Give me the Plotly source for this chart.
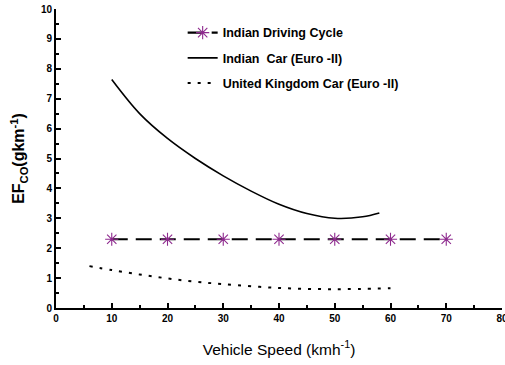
import plotly.graph_objects as go

# Indian Driving Cycle
idc_speed = [10, 20, 30, 40, 50, 60, 70]
idc_ef = [2.3, 2.3, 2.3, 2.3, 2.3, 2.3, 2.3]

# Indian Car (Euro-II)
in_speed = [10, 15, 20, 25, 30, 35, 40, 45, 50, 55, 58]
in_ef = [7.64, 6.50, 5.67, 5.00, 4.42, 3.91, 3.47, 3.16, 3.00, 3.05, 3.18]

# United Kingdom Car (Euro-II)
uk_speed = [6, 10, 15, 20, 25, 30, 40, 50, 60]
uk_ef = [1.40, 1.27, 1.12, 0.99, 0.88, 0.80, 0.67, 0.63, 0.66]

font_family = "Arial, Liberation Sans, sans-serif"

fig = go.Figure()
fig.add_trace(go.Scatter(
    x=idc_speed, y=idc_ef, mode="lines+markers", name="Indian Driving Cycle",
    legendgroup="a",
    line=dict(color="black", width=2.2, dash="16px,8px"),
    marker=dict(symbol="asterisk-open", size=11, color="#8E2A8E",
                line=dict(color="#8E2A8E", width=1.1)),
))
fig.add_trace(go.Scatter(
    x=in_speed, y=in_ef, mode="lines", name="Indian  Car (Euro -II)",
    legendgroup="b",
    line=dict(color="black", width=1.6, shape="spline", smoothing=1.0),
))
fig.add_trace(go.Scatter(
    x=uk_speed, y=uk_ef, mode="lines", name="United Kingdom Car (Euro -II)",
    legendgroup="c",
    line=dict(color="black", width=2, dash="3px,7px", shape="spline"),
))

axis_common = dict(
    showgrid=False, zeroline=False, showline=True, linecolor="black",
    linewidth=2, ticks="inside", tickcolor="black", tickwidth=1.5, ticklen=5,
    tickfont=dict(family=font_family, size=10, color="black", weight="bold"),
    mirror=False, automargin=False, ticklabeloverflow="allow",
)

fig.update_layout(
    width=505, height=365,
    margin=dict(l=56, r=3, t=9, b=57),
    plot_bgcolor="white", paper_bgcolor="white",
    font=dict(family=font_family, color="black"),
    showlegend=True,
    legend=dict(
        x=0.284, y=0.97, xanchor="left", yanchor="top",
        bgcolor="rgba(0,0,0,0)", tracegroupgap=6,
        font=dict(family=font_family, size=12.5, color="black", weight="bold"),
    ),
    xaxis=dict(
        range=[0, 80], dtick=10, tick0=0,
        minor=dict(dtick=5, ticks="inside", ticklen=3, tickcolor="black", tickwidth=1.5),
        title=dict(text="Vehicle Speed (kmh<sup>-1</sup>)",
                   font=dict(family=font_family, size=15.5, color="black"), standoff=21),
        **axis_common,
    ),
    yaxis=dict(
        range=[0, 10], dtick=1, tick0=0,
        minor=dict(dtick=0.5, ticks="inside", ticklen=3, tickcolor="black", tickwidth=1.5),
        title=dict(text="EF<sub>CO</sub>(gkm<sup>-1</sup>)",
                   font=dict(family=font_family, size=16, color="black", weight="bold"),
                   standoff=12),
        **axis_common,
    ),
)

fig.write_html("out.html", config={"displayModeBar": False},
               post_script="document.body.style.margin='0';")
